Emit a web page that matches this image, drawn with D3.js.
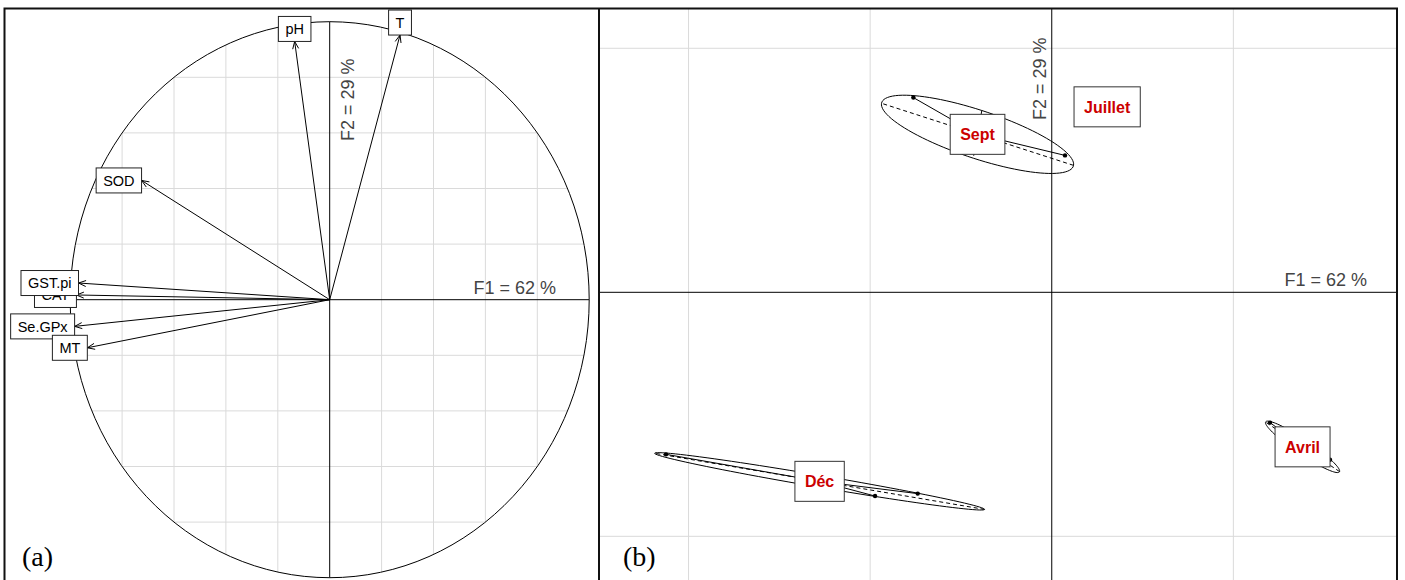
<!DOCTYPE html>
<html lang="fr">
<head>
<meta charset="UTF-8" />
<title>ACP : cercle des corrélations et plan factoriel</title>
<script src="https://d3js.org/d3.v7.min.js"></script>
<style>
  body { margin: 0; background: #fff; }
  svg { display: block; font-family: "Liberation Sans", Arial, sans-serif; }
  .grid { stroke: #dadada; stroke-width: 1; fill: none; }
  .axe { stroke: #000; stroke-width: 1; }
  .axe-label { font-size: 18px; fill: #444; }
  .var-label { font-size: 14.5px; fill: #000; }
  .class-label { font-size: 16px; font-weight: bold; fill: #cc0000; }
  .panel-tag { font-family: "Liberation Serif", "Times New Roman", serif; font-size: 28px; fill: #000; }
</style>
</head>
<body>
<div id="chart"></div>
<script>
// (a) variables : coordonnées sur F1 / F2 (cercle des corrélations)
const varNames = ["pH", "T", "SOD", "CAT", "GST.pi", "Se.GPx", "MT"];
const varF1 = [-0.135, 0.271, -0.725, -0.976, -0.968, -0.983, -0.934];
const varF2 = [0.929, 0.952, 0.429, 0.017, 0.060, -0.096, -0.173];

// (b) individus : mois de prélèvement et scores F1 / F2
const months = ["Juillet", "Sept", "Déc", "Avril"];
const indMonth = ["Juillet", "Juillet", "Juillet", "Sept", "Sept", "Sept",
                  "Déc", "Déc", "Déc", "Avril", "Avril", "Avril"];
const indF1 = [0.27, 0.33, 0.315, -0.762, 0.073, -0.537,
               -2.124, -0.973, -0.738, 1.202, 1.532, 1.409];
const indF2 = [0.77, 0.75, 0.76, 0.798, 0.561, 0.583,
               -0.664, -0.835, -0.825, -0.534, -0.686, -0.680];

const f1Label = "F1 = 62 %";
const f2Label = "F2 = 29 %";
const circleGrid = [-0.8, -0.6, -0.4, -0.2, 0.2, 0.4, 0.6, 0.8];
const gridF1 = [-2, -1, 1];
const gridF2 = [-1, 1];

const width = 1405, height = 580;

const svg = d3.select("#chart").append("svg")
  .attr("width", width)
  .attr("height", height);

// ---------- panneau (a) ----------
const xA = d3.scaleLinear().domain([-1, 1]).range([70.2, 589.2]);
const yA = d3.scaleLinear().domain([-1, 1]).range([577.7, 21.7]);
const gA = svg.append("g");

// grille limitée au cercle
circleGrid.forEach(v => {
  const h = Math.sqrt(1 - v * v);
  gA.append("line").attr("class", "grid")
    .attr("x1", xA(v)).attr("x2", xA(v))
    .attr("y1", yA(h)).attr("y2", yA(-h));
  gA.append("line").attr("class", "grid")
    .attr("x1", xA(-h)).attr("x2", xA(h))
    .attr("y1", yA(v)).attr("y2", yA(v));
});

gA.append("ellipse")
  .attr("cx", xA(0)).attr("cy", yA(0))
  .attr("rx", xA(1) - xA(0)).attr("ry", yA(-1) - yA(0))
  .attr("fill", "none").attr("stroke", "#000").attr("stroke-width", 1);

gA.append("line").attr("class", "axe")
  .attr("x1", xA(-1)).attr("x2", xA(1)).attr("y1", yA(0)).attr("y2", yA(0));
gA.append("line").attr("class", "axe")
  .attr("x1", xA(0)).attr("x2", xA(0)).attr("y1", yA(1)).attr("y2", yA(-1));

gA.append("text").attr("class", "axe-label")
  .attr("x", 556).attr("y", yA(0) - 6)
  .attr("text-anchor", "end").text(f1Label);
gA.append("text").attr("class", "axe-label")
  .attr("transform", `translate(${xA(0) + 24},141) rotate(-90)`)
  .text(f2Label);

// flèches
const headLen = 8, headAng = 22 * Math.PI / 180;
varNames.forEach((name, i) => {
  const x0 = xA(0), y0 = yA(0), x1 = xA(varF1[i]), y1 = yA(varF2[i]);
  const a = Math.atan2(y1 - y0, x1 - x0);
  const p1 = [x1 - headLen * Math.cos(a - headAng), y1 - headLen * Math.sin(a - headAng)];
  const p2 = [x1 - headLen * Math.cos(a + headAng), y1 - headLen * Math.sin(a + headAng)];
  gA.append("path")
    .attr("d", `M${x0},${y0}L${x1},${y1}M${p1[0]},${p1[1]}L${x1},${y1}L${p2[0]},${p2[1]}`)
    .attr("fill", "none").attr("stroke", "#000").attr("stroke-width", 1);
});

// étiquettes encadrées, placées hors du cercle
varNames.forEach((name, i) => {
  const xr = varF1[i], yr = varF2[i];
  const tx = xA(xr), ty = yA(yr);
  const g = gA.append("g");
  const rect = g.append("rect").attr("fill", "#fff").attr("stroke", "#222").attr("stroke-width", 1);
  const text = g.append("text").attr("class", "var-label")
    .attr("text-anchor", "middle").attr("dy", "0.36em").text(name);
  const w = text.node().getComputedTextLength() + 14, yh = 12.5;
  let cx = tx, cy = ty;
  if (xr > yr && xr > -yr) cx = tx + w / 2;
  else if (xr > yr && xr <= -yr) cy = ty + yh;
  else if (xr <= yr && xr <= -yr) cx = tx - w / 2;
  else cy = ty - yh;
  rect.attr("x", cx - w / 2).attr("y", cy - yh).attr("width", w).attr("height", 2 * yh);
  text.attr("x", cx).attr("y", cy);
});

svg.append("text").attr("class", "panel-tag").attr("x", 22).attr("y", 566).text("(a)");

// ---------- panneau (b) ----------
const xB = d3.scaleLinear().domain([-2.493, 1.901]).range([599, 1397]);
const yB = d3.scaleLinear().domain([-1.179, 1.163]).range([580, 8.5]);
const gB = svg.append("g");

gridF1.forEach(v => gB.append("line").attr("class", "grid")
  .attr("x1", xB(v)).attr("x2", xB(v)).attr("y1", yB.range()[0]).attr("y2", yB.range()[1]));
gridF2.forEach(v => gB.append("line").attr("class", "grid")
  .attr("x1", xB.range()[0]).attr("x2", xB.range()[1]).attr("y1", yB(v)).attr("y2", yB(v)));

gB.append("line").attr("class", "axe")
  .attr("x1", 599).attr("x2", 1397).attr("y1", yB(0)).attr("y2", yB(0));
gB.append("line").attr("class", "axe")
  .attr("x1", xB(0)).attr("x2", xB(0)).attr("y1", 8.5).attr("y2", 580);

gB.append("text").attr("class", "axe-label")
  .attr("x", 1367).attr("y", yB(0) - 6)
  .attr("text-anchor", "end").text(f1Label);
gB.append("text").attr("class", "axe-label")
  .attr("transform", `translate(${xB(0) - 6},120) rotate(-90)`)
  .text(f2Label);

// ellipse d'inertie (comme ade4, coeff 1.5)
function classEllipse(xs, ys, coeff) {
  const mx = d3.mean(xs), my = d3.mean(ys);
  const vx = d3.mean(xs, x => (x - mx) * (x - mx));
  const vy = d3.mean(ys, y => (y - my) * (y - my));
  const cxy = d3.mean(xs.map((x, k) => (x - mx) * (ys[k] - my)));
  const delta = Math.sqrt((vx - vy) * (vx - vy) + 4 * cxy * cxy);
  let l1 = (vx + vy + delta) / 2, l2 = vx + vy - l1;
  l1 = Math.sqrt(Math.max(l1, 0)); l2 = Math.sqrt(Math.max(l2, 0));
  let a0 = 1, b0 = (l1 * l1 - vx) / cxy;
  const nrm = Math.sqrt(a0 * a0 + b0 * b0);
  a0 /= nrm; b0 /= nrm;
  const c11 = coeff * a0 * l1, c12 = -coeff * b0 * l2;
  const c21 = coeff * b0 * l1, c22 = coeff * a0 * l2;
  const pts = d3.range(100).map(k => {
    const t = 2 * Math.PI * k / 100;
    return [mx + c11 * Math.cos(t) + c12 * Math.sin(t), my + c21 * Math.cos(t) + c22 * Math.sin(t)];
  });
  return {
    mx, my, pts,
    seg1: [[mx + c11, my + c21], [mx - c11, my - c21]],
    seg2: [[mx + c12, my + c22], [mx - c12, my - c22]]
  };
}

const lineB = d3.line().x(d => xB(d[0])).y(d => yB(d[1]));
const classes = months.map(m => {
  const idx = d3.range(indMonth.length).filter(k => indMonth[k] === m);
  const xs = idx.map(k => indF1[k]), ys = idx.map(k => indF2[k]);
  return { name: m, xs, ys, ell: classEllipse(xs, ys, 1.5) };
});

// points
gB.selectAll("circle.ind")
  .data(indF1.map((x, k) => [x, indF2[k]]))
  .enter().append("circle").attr("class", "ind")
  .attr("cx", d => xB(d[0])).attr("cy", d => yB(d[1]))
  .attr("r", 2.2).attr("fill", "#000");

classes.forEach(c => {
  // étoiles
  c.xs.forEach((x, k) => gB.append("line")
    .attr("x1", xB(c.ell.mx)).attr("y1", yB(c.ell.my))
    .attr("x2", xB(x)).attr("y2", yB(c.ys[k]))
    .attr("stroke", "#000").attr("stroke-width", 1));
  gB.append("path")
    .attr("d", lineB.curve(d3.curveLinearClosed)(c.ell.pts))
    .attr("fill", "none").attr("stroke", "#000").attr("stroke-width", 1);
  [c.ell.seg1, c.ell.seg2].forEach(s => gB.append("path")
    .attr("d", d3.line().x(d => xB(d[0])).y(d => yB(d[1]))(s))
    .attr("fill", "none").attr("stroke", "#000").attr("stroke-width", 1)
    .attr("stroke-dasharray", "4,3"));
});

// étiquettes des classes
classes.forEach(c => {
  const cx = xB(c.ell.mx), cy = yB(c.ell.my);
  const g = gB.append("g");
  const rect = g.append("rect").attr("fill", "#fff").attr("stroke", "#333").attr("stroke-width", 1);
  const text = g.append("text").attr("class", "class-label")
    .attr("x", cx).attr("y", cy).attr("dy", "0.36em")
    .attr("text-anchor", "middle").text(c.name);
  const w = text.node().getComputedTextLength() + 20;
  rect.attr("x", cx - w / 2).attr("y", cy - 20).attr("width", w).attr("height", 40);
});

svg.append("text").attr("class", "panel-tag").attr("x", 623).attr("y", 566).text("(b)");

// cadre
svg.append("path")
  .attr("d", "M4.5,590V8.5H1397V590M599,8.5V590")
  .attr("fill", "none").attr("stroke", "#111").attr("stroke-width", 2);
</script>
</body>
</html>
